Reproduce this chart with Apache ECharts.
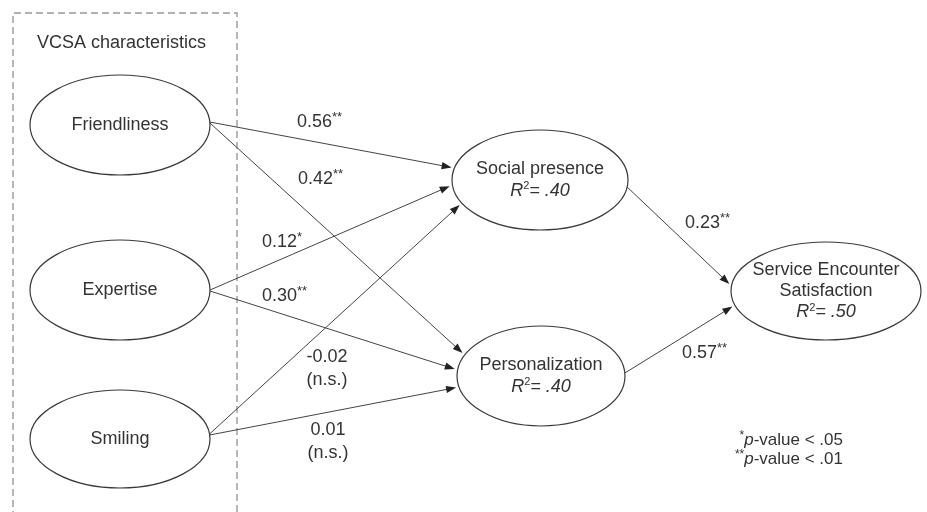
<!DOCTYPE html>
<html><head><meta charset="utf-8">
<script src="https://cdn.jsdelivr.net/npm/echarts@6/dist/echarts.min.js"></script>
<style>html,body{margin:0;padding:0;background:#fff}#c{width:927px;height:512px}</style>
</head><body><div id="c"></div><script>
// ---- content ----
const nodeNames = ['Friendliness', 'Expertise', 'Smiling', 'Social presence', 'Personalization', 'Service Encounter\nSatisfaction'];
const nodeR2 = ['', '', '', '.40', '.40', '.50'];
const pathFrom = [0, 0, 1, 1, 2, 2, 3, 4];
const pathTo = [3, 4, 3, 4, 3, 4, 5, 5];
const pathCoef = ['0.56', '0.42', '0.12', '0.30', '-0.02', '0.01', '0.23', '0.57'];
const pathSig = ['**', '**', '*', '**', '(n.s.)', '(n.s.)', '**', '**'];
const groupTitle = 'VCSA characteristics';
const noteStars = ['*', '**'];
const noteLevels = ['.05', '.01'];

// ---- layout (diagram coordinates, mapped through the axes) ----
const nodeCenter = [[120, 125], [120, 290], [120, 439], [540, 180], [541, 376], [826, 291]];
const nodeRadius = [[90, 50], [90, 50], [90, 49], [88, 50], [84, 50], [95, 49]];
const edgeStartDy = [-3, -2, 0, 1, -5, -4, 7, -3];
const edgeEndDy = [-12, -21, 5, -6, 23, 11, -5, 14];
const labelAnchor = [[297, 122], [298, 179], [262, 242], [262, 296], [327, 357], [328, 430], [685, 223], [682, 353]];
const frameBox = [13, 13, 237, 540];
const titleAnchor = [37, 43];
const noteAnchor = [843, 440];

const FONT = '"Liberation Sans", Arial, Helvetica, sans-serif';
const TXT = '#333';
const LINE = '#444';

function boundary(i, dy, side) {
  const c = nodeCenter[i], r = nodeRadius[i];
  const k = Math.sqrt(Math.max(0, 1 - (dy / r[1]) * (dy / r[1])));
  return [c[0] + side * r[0] * k, c[1] + dy];
}

const chart = echarts.init(document.getElementById('c'), null, {renderer: 'canvas'});
const richBase = {
  i: {fontSize: 18, fontFamily: FONT, fontStyle: 'italic', fill: TXT},
  s: {fontSize: 11, fontFamily: FONT, fill: TXT, padding: [0, 0, 9, 0]},
  n: {fontSize: 18, fontFamily: FONT, fill: TXT},
  a: {fontSize: 13, fontFamily: FONT, fill: TXT, padding: [0, 0, 9, 0]}
};

chart.setOption({
  animation: false,
  backgroundColor: '#fff',
  grid: {left: 0, right: 0, top: 0, bottom: 0},
  xAxis: {type: 'value', min: 0, max: 927, show: false},
  yAxis: {type: 'value', min: 0, max: 512, inverse: true, show: false},
  series: [
    // frame + title
    {
      type: 'custom', coordinateSystem: 'cartesian2d', silent: true,
      data: [[frameBox[0], frameBox[1], frameBox[2], frameBox[3]]],
      encode: {x: [0, 2], y: [1, 3]},
      renderItem: function (params, api) {
        const p0 = api.coord([api.value(0), api.value(1)]);
        const p1 = api.coord([api.value(2), api.value(3)]);
        const t = api.coord(titleAnchor);
        return {type: 'group', children: [
          {type: 'polyline', shape: {points: [[p0[0], p1[1]], [p0[0], p0[1]], [p1[0], p0[1]], [p1[0], p1[1]]]},
            style: {stroke: '#9a9a9a', lineWidth: 1.4, lineDash: [7, 4], fill: null}},
          {type: 'text', style: {text: groupTitle, x: t[0], y: t[1], align: 'left', verticalAlign: 'middle',
            fontSize: 18, fontFamily: FONT, fill: TXT}}
        ]};
      }
    },
    // paths
    {
      type: 'custom', coordinateSystem: 'cartesian2d', silent: true,
      data: pathFrom.map(function (f, i) { return [nodeCenter[f][0], nodeCenter[f][1], nodeCenter[pathTo[i]][0], nodeCenter[pathTo[i]][1], i]; }),
      encode: {x: [0, 2], y: [1, 3]},
      renderItem: function (params, api) {
        const i = api.value(4);
        const a = api.coord(boundary(pathFrom[i], edgeStartDy[i], 1));
        const b0 = api.coord(boundary(pathTo[i], edgeEndDy[i], -1));
        let dx = b0[0] - a[0], dy = b0[1] - a[1];
        const len = Math.sqrt(dx * dx + dy * dy);
        dx /= len; dy /= len;
        const gap = 3, head = 10, hw = 3.6;
        const tip = [b0[0] - dx * gap, b0[1] - dy * gap];
        const base = [tip[0] - dx * head, tip[1] - dy * head];
        const nx = -dy, ny = dx;
        return {type: 'group', children: [
          {type: 'line', shape: {x1: a[0], y1: a[1], x2: base[0] + dx * 2, y2: base[1] + dy * 2},
            style: {stroke: LINE, lineWidth: 1}},
          {type: 'polygon', shape: {points: [tip, [base[0] + nx * hw, base[1] + ny * hw], [base[0] - nx * hw, base[1] - ny * hw]]},
            style: {fill: '#222', stroke: null}}
        ]};
      }
    },
    // nodes
    {
      type: 'custom', coordinateSystem: 'cartesian2d', silent: true,
      data: nodeCenter.map(function (c, i) { return [c[0], c[1], i]; }),
      encode: {x: 0, y: 1},
      renderItem: function (params, api) {
        const i = api.value(2);
        const c = api.coord([api.value(0), api.value(1)]);
        const s = api.size([nodeRadius[i][0], nodeRadius[i][1]]);
        let txt = nodeNames[i].split('\n').map(function (t) { return '{n|' + t + '}'; }).join('\n');
        if (nodeR2[i]) txt += '\n{i|R}{s|2}{i|= ' + nodeR2[i] + '}';
        return {type: 'group', children: [
          {type: 'ellipse', shape: {cx: c[0], cy: c[1], rx: s[0], ry: s[1]},
            style: {fill: '#fff', stroke: '#3a3a3a', lineWidth: 1.2}},
          {type: 'text', style: {text: txt, x: c[0], y: c[1], align: 'center', verticalAlign: 'middle',
            fontSize: 18, fontFamily: FONT, fill: TXT, lineHeight: 21, rich: {
              n: {fontSize: 18, fontFamily: FONT, fill: TXT, lineHeight: 21},
              i: {fontSize: 18, fontFamily: FONT, fontStyle: 'italic', fill: TXT, lineHeight: 21},
              s: {fontSize: 11, fontFamily: FONT, fill: TXT, padding: [0, 0, 9, 0], lineHeight: 21}
            }}}
        ]};
      }
    },
    // coefficient labels
    {
      type: 'custom', coordinateSystem: 'cartesian2d', silent: true,
      data: labelAnchor.map(function (p, i) { return [p[0], p[1], i]; }),
      encode: {x: 0, y: 1},
      renderItem: function (params, api) {
        const i = api.value(2);
        const p = api.coord([api.value(0), api.value(1)]);
        if (pathSig[i].charAt(0) === '(') {
          return {type: 'text', style: {text: pathCoef[i] + '\n' + pathSig[i], x: p[0], y: p[1] - 11, align: 'center', verticalAlign: 'top',
            fontSize: 18, fontFamily: FONT, fill: TXT, lineHeight: 23}};
        }
        return {type: 'text', style: {text: '{n|' + pathCoef[i] + '}{a|' + pathSig[i] + '}', x: p[0], y: p[1], align: 'left', verticalAlign: 'middle',
          fontSize: 18, fontFamily: FONT, fill: TXT, rich: richBase}};
      }
    },
    // footnote
    {
      type: 'custom', coordinateSystem: 'cartesian2d', silent: true,
      data: noteStars.map(function (s, i) { return [noteAnchor[0], noteAnchor[1], i]; }),
      encode: {x: 0, y: 1},
      renderItem: function (params, api) {
        const i = api.value(2);
        const p = api.coord([api.value(0), api.value(1)]);
        return {type: 'text', style: {
          text: '{a|' + noteStars[i] + '}{i|p}{n|-value < ' + noteLevels[i] + '}',
          x: p[0], y: p[1] + i * 19, align: 'right', verticalAlign: 'middle',
          fontSize: 17, fontFamily: FONT, fill: TXT, rich: {
            n: {fontSize: 17, fontFamily: FONT, fill: TXT},
            i: {fontSize: 17, fontFamily: FONT, fontStyle: 'italic', fill: TXT},
            a: {fontSize: 12, fontFamily: FONT, fill: TXT, padding: [0, 0, 8, 0]}
          }}};
      }
    }
  ]
});
</script></body></html>
